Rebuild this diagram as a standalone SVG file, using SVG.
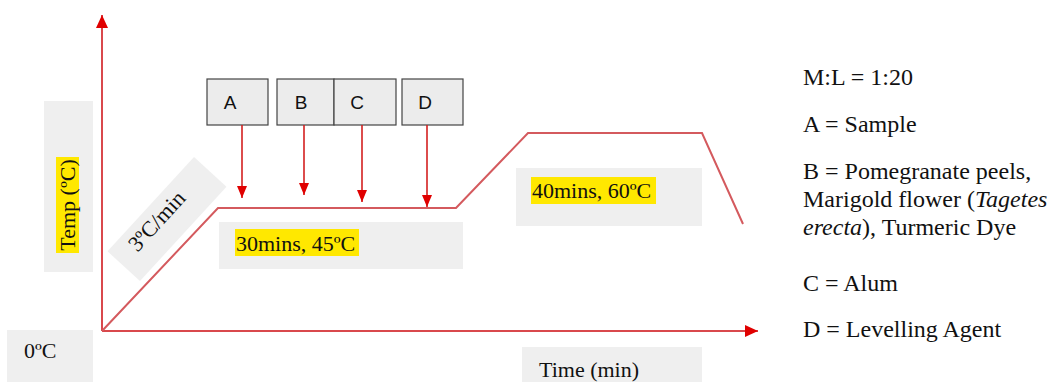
<svg xmlns="http://www.w3.org/2000/svg" width="1061" height="382" viewBox="0 0 1061 382">
  <defs>
    <marker id="ah" viewBox="0 0 12 10" refX="12" refY="5" markerWidth="12" markerHeight="10" markerUnits="userSpaceOnUse" orient="auto">
      <path d="M0,0 L12,5 L0,10 Z" fill="#e00000"/>
    </marker>
    <marker id="axh" viewBox="0 0 13 12" refX="13" refY="6" markerWidth="13" markerHeight="12" markerUnits="userSpaceOnUse" orient="auto">
      <path d="M0,0 L13,6 L0,12 Z" fill="#e00000"/>
    </marker>
  </defs>
  <style>
    .serif { font-family: "Liberation Serif", "Times New Roman", serif; fill: #111; }
    .lbl { font-size: 22px; }
    .leg { font-size: 24px; }
    .sans { font-family: "Liberation Sans", Arial, sans-serif; font-size: 19px; fill: #111; }
    .gbox { fill: #efefef; }
    .hl { fill: #ffe800; }
    .node { fill: #ececec; stroke: #444; stroke-width: 1.2; }
    .axis { stroke: #d9484c; stroke-width: 2; fill: none; }
    .curve { stroke: #d45a5e; stroke-width: 2; fill: none; }
    .arr { stroke: #d42020; stroke-width: 1.6; fill: none; }
  </style>
  <rect width="1061" height="382" fill="#ffffff"/>

  <!-- label boxes -->
  <g id="temp-label">
    <rect class="gbox" x="44" y="101" width="49" height="171"/>
    <rect class="hl" x="56" y="157" width="23" height="96"/>
    <text class="serif lbl" transform="translate(75,205) rotate(-90)" text-anchor="middle">Temp (ºC)</text>
  </g>
  <g id="zero-label">
    <rect class="gbox" x="7" y="330" width="86" height="52"/>
    <text class="serif lbl" x="24" y="358">0ºC</text>
  </g>
  <g id="rate-label">
    <rect class="gbox" x="-64" y="-22" width="128" height="44" transform="translate(167,219) rotate(-47.5)"/>
    <text class="serif lbl" transform="translate(162,226) rotate(-47.5)" text-anchor="middle">3ºC/min</text>
  </g>
  <g id="hold1-label">
    <rect class="gbox" x="219" y="222" width="244" height="47"/>
    <rect class="hl" x="235" y="229" width="124" height="27"/>
    <text class="serif lbl" x="236" y="251">30mins, 45ºC</text>
  </g>
  <g id="hold2-label">
    <rect class="gbox" x="516" y="168" width="186" height="58"/>
    <rect class="hl" x="531" y="177" width="125" height="27"/>
    <text class="serif lbl" x="532" y="198">40mins, 60ºC</text>
  </g>
  <g id="time-label">
    <rect class="gbox" x="522" y="347" width="180" height="35"/>
    <text class="serif lbl" x="539" y="377">Time (min)</text>
  </g>

  <!-- nodes -->
  <g id="node-A">
    <rect class="node" x="207" y="79" width="61" height="46"/>
    <text class="sans" x="230" y="109" text-anchor="middle">A</text>
  </g>
  <g id="node-B">
    <rect class="node" x="277" y="79" width="57" height="46"/>
    <text class="sans" x="301" y="109" text-anchor="middle">B</text>
  </g>
  <g id="node-C">
    <rect class="node" x="334" y="79" width="62" height="46"/>
    <text class="sans" x="357" y="109" text-anchor="middle">C</text>
  </g>
  <g id="node-D">
    <rect class="node" x="402" y="79" width="61" height="46"/>
    <text class="sans" x="425" y="109" text-anchor="middle">D</text>
  </g>

  <!-- connectors -->
  <g id="connectors">
    <path class="axis" d="M102,331 V15" marker-end="url(#axh)"/>
    <path class="axis" d="M102,331 H758" marker-end="url(#axh)"/>
    <path class="curve" d="M102,331 L218,208 H456 L528,133 H702 L743,224"/>
    <path class="arr" d="M242,125 V198" marker-end="url(#ah)"/>
    <path class="arr" d="M304,125 V195" marker-end="url(#ah)"/>
    <path class="arr" d="M362,125 V202" marker-end="url(#ah)"/>
    <path class="arr" d="M427,125 V207" marker-end="url(#ah)"/>
  </g>

  <!-- legend -->
  <g id="legend" class="serif leg">
    <text x="803" y="85">M:L = 1:20</text>
    <text x="803" y="132">A = Sample</text>
    <text x="803" y="179">B = Pomegranate peels,</text>
    <text x="803" y="207">Marigold flower (<tspan font-style="italic">Tagetes</tspan></text>
    <text x="803" y="235"><tspan font-style="italic">erecta</tspan>), Turmeric Dye</text>
    <text x="803" y="291">C = Alum</text>
    <text x="803" y="337">D = Levelling Agent</text>
  </g>
</svg>
